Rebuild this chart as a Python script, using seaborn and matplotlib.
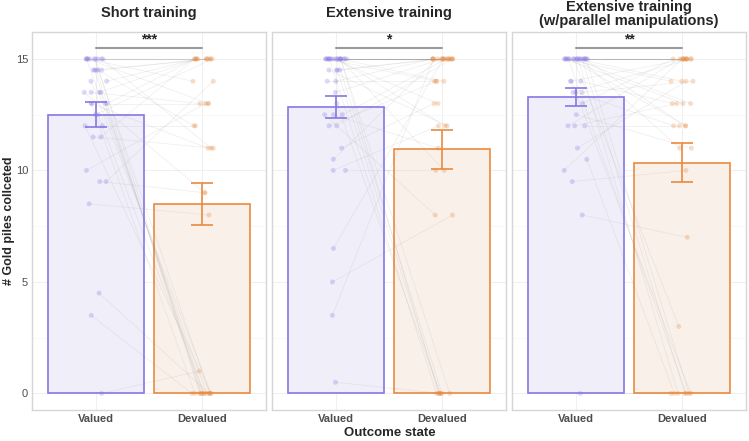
import numpy as np
import pandas as pd
import matplotlib
matplotlib.use("Agg")
import matplotlib.pyplot as plt
import seaborn as sns

# ---- data ----
panels = ["Short training", "Extensive training",
          "Extensive training\n(w/parallel manipulations)"]
conditions = ["Valued", "Devalued"]

bar_means = [[12.5, 8.5], [12.85, 10.95], [13.3, 10.35]]
bar_se = [[0.55, 0.95], [0.5, 0.87], [0.4, 0.87]]
stars = ["***", "*", "**"]

# per-subject scores (same order in valued/devalued = same subject)
valued_1 = [15, 15, 15, 15, 15, 15, 15, 15, 15, 15, 14.5, 14.5, 14.5, 14.5, 14.5,
            14, 14, 13.5, 13.5, 13.5, 13.5, 13, 13, 13, 13, 12.5, 12.5, 12, 12,
            11.5, 11.5, 10, 9.5, 9.5, 8.5, 4.5, 3.5, 0]
devalued_1 = [15, 15, 15, 15, 0, 0, 0, 13, 11, 14, 15, 0, 0, 12, 15,
              15, 0, 15, 0, 13, 9, 15, 0, 11, 13, 0, 15, 12, 0,
              15, 11, 13, 9, 14, 8, 0, 0, 1]

valued_2 = [15] * 18 + [14.5, 14.5, 14.5, 14.5, 14, 14, 13.5, 13, 12.5, 12.5, 12.5,
                        12, 12, 11, 10.5, 10, 10, 6.5, 5, 3.5, 0.5]
devalued_2 = [15, 15, 15, 15, 15, 15, 15, 15, 15, 0, 0, 0, 0, 14, 14, 13, 12, 10,
              15, 15, 0, 12, 15, 14, 15, 0, 15, 11, 8,
              15, 14, 13, 15, 12, 10, 15, 8, 15, 0]

valued_3 = [15] * 19 + [14, 14, 14, 13.5, 13.5, 13.5, 13, 12.5, 12, 12, 12,
                        11, 10.5, 10, 9.5, 8, 0]
devalued_3 = [15, 15, 15, 15, 15, 15, 15, 0, 0, 0, 0, 14, 14, 13, 13, 12, 12, 11, 3,
              15, 13, 0, 15, 14, 12, 15, 11, 15, 13, 12,
              14, 0, 15, 10, 7, 0]

subjects = [(valued_1, devalued_1), (valued_2, devalued_2), (valued_3, devalued_3)]

# ---- style ----
edge_cols = ["#8577e6", "#ea8a3e"]
fill_cols = ["#efedfb", "#fbf0e8"]
pt_cols = ["#8577e6", "#ea8a3e"]
grid_col = "#f0f0f0"
frame_col = "#d6d6d6"
tick_col = "#4d4d4d"

sns.set_style("white")
plt.rcParams["font.family"] = ["Liberation Sans", "DejaVu Sans"]

fig, axes = plt.subplots(1, 3, figsize=(7.49, 4.41), dpi=100, sharey=True)
fig.subplots_adjust(left=0.043, right=0.996, top=0.927, bottom=0.07, wspace=0.026)

rng = np.random.default_rng(3)

for i, ax in enumerate(axes):
    summary = pd.DataFrame({"condition": conditions, "score": bar_means[i]})
    sns.barplot(data=summary, x="condition", y="score", hue="condition",
                palette=fill_cols, width=0.9, errorbar=None, legend=False,
                ax=ax, zorder=2)
    for p, ec in zip(ax.patches, edge_cols):
        p.set_edgecolor(ec)
        p.set_linewidth(1.2)

    v, d = subjects[i]
    n = len(v)
    xv = rng.uniform(-0.11, 0.11, n)
    xd = 1 + rng.uniform(-0.11, 0.11, n)
    for k in range(n):
        ax.plot([xv[k], xd[k]], [v[k], d[k]], color="#8c8c8c", lw=0.6,
                alpha=0.13, zorder=3)
    pts = pd.DataFrame({"x": np.concatenate([xv, xd]),
                        "y": np.concatenate([v, d]),
                        "c": ["Valued"] * n + ["Devalued"] * n})
    sns.scatterplot(data=pts, x="x", y="y", hue="c", palette=pt_cols,
                    hue_order=conditions, s=13, alpha=0.28, linewidth=0,
                    legend=False, ax=ax, zorder=4)

    for j in range(2):
        ax.errorbar(j, bar_means[i][j], yerr=bar_se[i][j], color=edge_cols[j],
                    capsize=8, capthick=1.2, elinewidth=1.2, zorder=5)

    ax.plot([0, 1], [15.5, 15.5], color="#9a9a9a", lw=1.5, zorder=5)
    ax.text(0.5, 15.55, stars[i], ha="center", va="bottom", fontsize=10,
            fontweight="bold")

    ax.set_xlim(-0.6, 1.6)
    ax.set_ylim(-0.75, 16.2)
    ax.set_yticks([0, 5, 10, 15])
    ax.set_yticks([2.5, 7.5, 12.5], minor=True)
    ax.set_xticks([0, 1])
    ax.set_xticklabels(conditions)
    ax.grid(True, which="major", color=grid_col, lw=0.8, zorder=0)
    ax.grid(True, which="minor", axis="y", color="#f7f7f7", lw=0.6, zorder=0)
    ax.set_axisbelow(True)
    ax.tick_params(axis="both", which="both", length=0, colors=tick_col,
                   labelsize=8, pad=3)
    for lab in ax.get_xticklabels():
        lab.set_fontweight("bold")
    for s in ax.spines.values():
        s.set_color(frame_col)
        s.set_linewidth(1.0)
    ax.set_xlabel("")
    ax.set_ylabel("")
    two_line = "\n" in panels[i]
    ax.set_title(panels[i], fontsize=10.5, fontweight="bold",
                 pad=5 if two_line else 11, linespacing=1.0)

fig.text(0.012, 0.5, "# Gold piles collceted", rotation=90, ha="center",
         va="center", fontsize=9, fontweight="bold")
fig.text(0.52, 0.018, "Outcome state", ha="center", va="center",
         fontsize=9.5, fontweight="bold")

fig.savefig("out.png", dpi=100)
